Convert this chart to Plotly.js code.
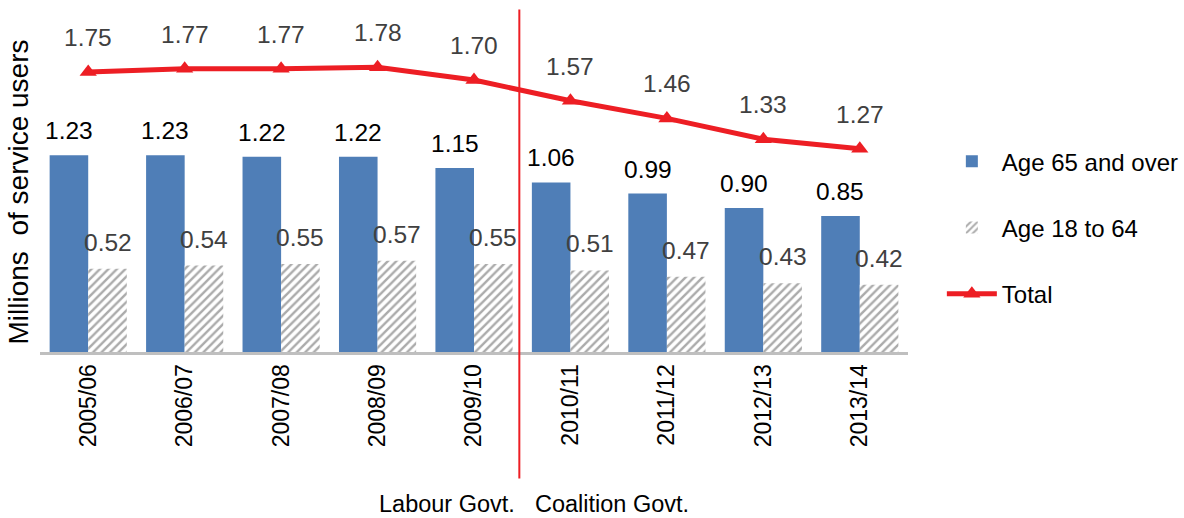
<!DOCTYPE html>
<html><head><meta charset="utf-8">
<script src="https://cdn.plot.ly/plotly-3.0.1.min.js"></script>
<style>body{margin:0;background:#fff}#chart{width:1184px;height:518px}</style>
</head><body><div id="chart"></div>
<script>
const categories = ["2005/06","2006/07","2007/08","2008/09","2009/10","2010/11","2011/12","2012/13","2013/14"];
const age65 = [1.23,1.23,1.22,1.22,1.15,1.06,0.99,0.90,0.85];
const age18 = [0.52,0.54,0.55,0.57,0.55,0.51,0.47,0.43,0.42];
const total = [1.75,1.77,1.77,1.78,1.70,1.57,1.46,1.33,1.27];
const govtLabels = ["Labour Govt.","Coalition Govt."];

const xs = categories.map((c,i)=>i);
const font = "'Liberation Sans', Arial, sans-serif";
const red = "rgb(237,30,36)";

const traces = [
  {type:"bar", name:"Age 65 and over", x:xs, y:age65, marker:{color:"#4F7EB7"}, legendgroup:"a", hoverinfo:"skip"},
  {type:"bar", name:"Age 18 to 64", x:xs, y:age18, legendgroup:"b", hoverinfo:"skip",
   marker:{color:"white", pattern:{shape:"/", fgcolor:"#ABABAB", bgcolor:"white", size:6, solidity:0.4}}},
  {type:"scatter", mode:"lines+markers", name:"Total", x:xs, y:total, legendgroup:"c", hoverinfo:"skip",
   line:{color:red, width:5}, marker:{symbol:"triangle-up", size:15, color:red}, cliponaxis:false}
];

const ann = [];
xs.forEach((x,i)=>{
  ann.push({x:x-0.2, y:age65[i], text:age65[i].toFixed(2), showarrow:false, yanchor:"bottom", yshift:9, font:{size:24.5,color:"#000",family:font}});
  ann.push({x:x+0.2, y:age18[i], text:age18[i].toFixed(2), showarrow:false, yanchor:"bottom", yshift:11, font:{size:24.5,color:"#404040",family:font}});
  ann.push({x:x, y:total[i], text:total[i].toFixed(2), showarrow:false, yanchor:"bottom", yshift:19, font:{size:24.5,color:"#404040",family:font}});
});
ann.push({xref:"x", yref:"paper", x:3.72, y:-0.475, text:govtLabels[0], showarrow:false, yanchor:"middle", font:{size:23.5,color:"#000",family:font}});
ann.push({xref:"x", yref:"paper", x:5.43, y:-0.475, text:govtLabels[1], showarrow:false, yanchor:"middle", font:{size:23.5,color:"#000",family:font}});

const layout = {
  width:1184, height:518,
  margin:{l:40, r:276, t:32, b:166, autoexpand:false},
  paper_bgcolor:"white", plot_bgcolor:"white",
  font:{family:font, color:"#000"},
  barmode:"group", bargap:0.2, bargroupgap:0,
  showlegend:true,
  legend:{x:1.039, y:0.665, xanchor:"left", yanchor:"top", font:{size:24,color:"#000",family:font},
          tracegroupgap:32, traceorder:"grouped", itemwidth:50, bgcolor:"rgba(0,0,0,0)"},
  xaxis:{tickmode:"array", tickvals:xs, ticktext:categories, tickangle:-90, range:[-0.5,8.5], automargin:false,
         showline:true, linecolor:"#BFBFBF", linewidth:3, ticks:"", showgrid:false, zeroline:false,
         tickfont:{size:23,color:"#000",family:font}},
  yaxis:{range:[0,2], showticklabels:false, showgrid:false, zeroline:false, showline:false, ticks:"", automargin:false,
         title:{text:"Millions  of service users", font:{size:28,color:"#000",family:font}, standoff:2}},
  shapes:[{type:"line", xref:"x", yref:"paper", x0:4.47, x1:4.47, y0:-0.395, y1:1.07, line:{color:red, width:2}}],
  annotations:ann
};
Plotly.newPlot("chart", traces, layout, {displayModeBar:false, staticPlot:true});
</script></body></html>
